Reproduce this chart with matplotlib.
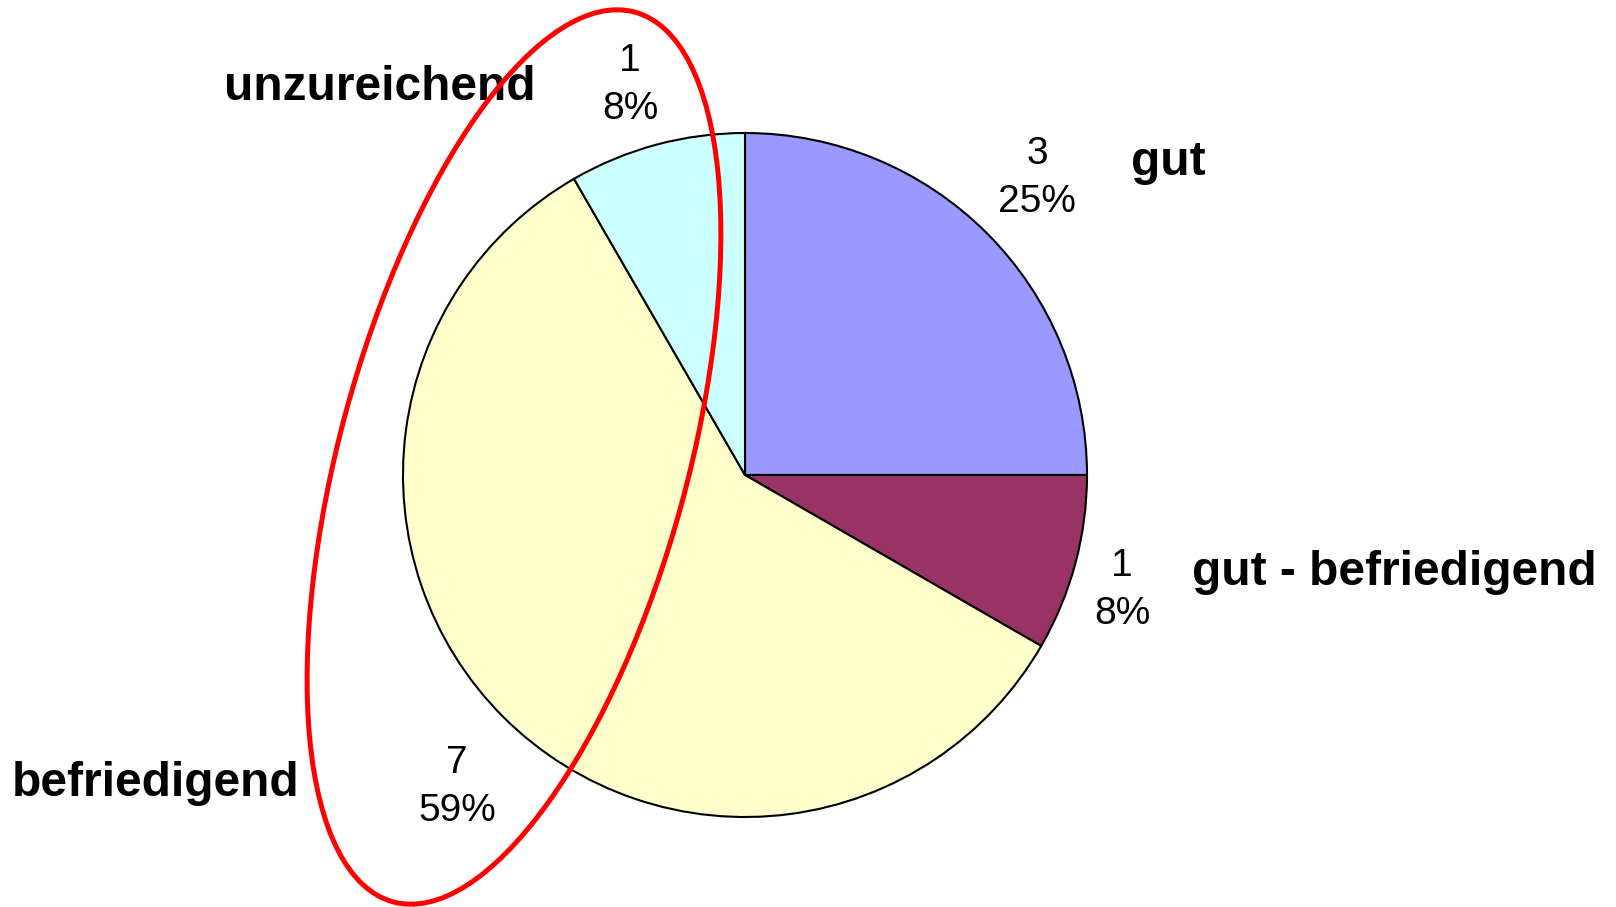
import matplotlib.pyplot as plt
from matplotlib.patches import Ellipse

plt.rcParams['font.family'] = ['Liberation Sans', 'DejaVu Sans']

categories = ["gut", "gut - befriedigend", "befriedigend", "unzureichend"]
counts = [3, 1, 7, 1]
percent_labels = ["25%", "8%", "59%", "8%"]
colors = ["#9999FF", "#993366", "#FFFFCC", "#CCFFFF"]

W, H = 1616, 907

fig = plt.figure(figsize=(W / 100, H / 100), dpi=100)
ax = fig.add_axes([0, 0, 1, 1])

cx, cy, r = 745, H - 475, 342
ax.pie(counts, colors=colors, startangle=90, counterclock=False,
       center=(cx, cy), radius=r,
       wedgeprops=dict(edgecolor="black", linewidth=1.5))

# value / percent labels (x, y in pixels from top-left)
value_pos = [(1037, 178), (1122, 590), (457, 787), (630, 85)]
for n, p, (x, y) in zip(counts, percent_labels, value_pos):
    ax.text(x, H - y, f"{n}\n{p}", ha="center", va="center",
            fontsize=28, linespacing=1.45)

# category names
name_pos = [(1168, 175, "center"), (1192, 585, "left"),
            (12, 796, "left"), (224, 100, "left")]
for name, (x, y, ha) in zip(categories, name_pos):
    ax.text(x, H - y, name, ha=ha, va="baseline", fontsize=34.5,
            fontweight="bold")

# red ellipse highlighting the lower grades
ax.add_patch(Ellipse((514, H - 457), width=922, height=348, angle=74.8,
                     fill=False, edgecolor="red", linewidth=3.6, zorder=5))

ax.set_xlim(0, W)
ax.set_ylim(0, H)
ax.set_aspect("auto")
ax.axis("off")

fig.savefig("out.png", dpi=100)
